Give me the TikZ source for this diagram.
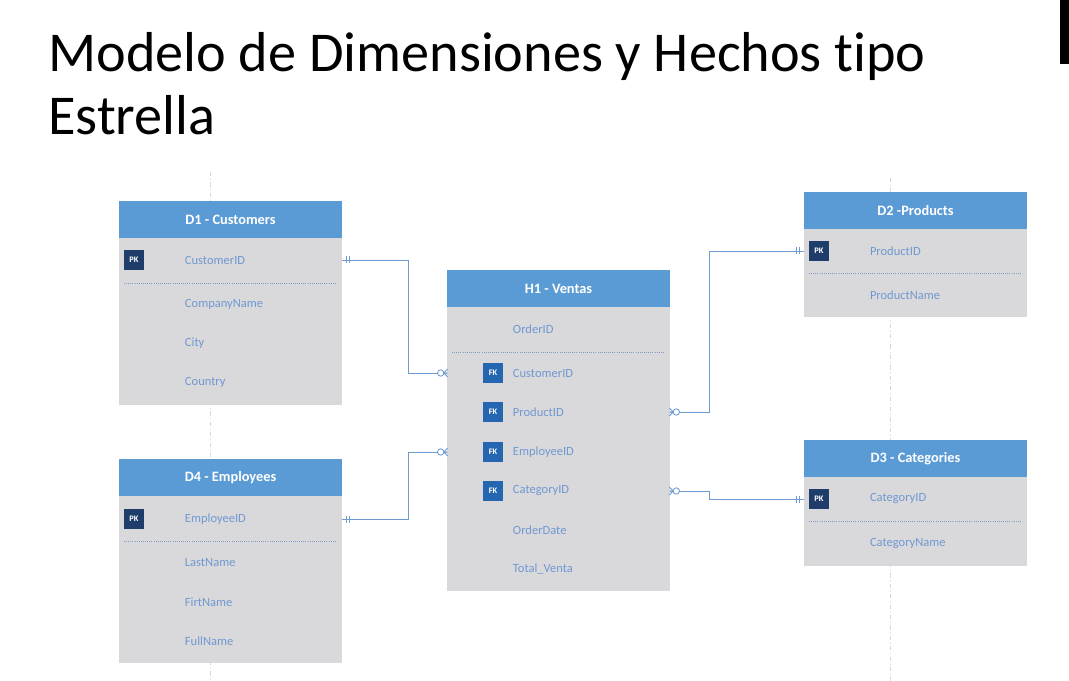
\documentclass[tikz,border=0pt]{standalone}
\usepackage{fontspec}
\setmainfont{Carlito}[Ligatures=NoCommon]
\usetikzlibrary{positioning}

\begin{document}
\begin{tikzpicture}[x=0.025cm, y=-0.025cm,
    head/.style={fill=headblue, text=white, font=\bfseries\fontsize{10.2}{12}\selectfont,
                 minimum width=5.575cm, minimum height=0.925cm, inner sep=0pt},
    row/.style={text width=2.275cm, inner xsep=1.65cm, inner ysep=0pt, align=left,
                text=fieldblue, font=\fontsize{8.9}{10}\selectfont},
    pk/.style={fill=pknavy, text=white, font=\bfseries\fontsize{6}{6}\selectfont,
               minimum size=0.5cm, inner sep=0pt},
    fk/.style={pk, fill=fkblue},
    sep/.style={sepcolor, densely dotted, line width=0.5pt},
    conn/.style={linkblue, line width=0.6pt},
    guia/.style={gray!30, dash dot, line width=0.5pt},
    uno/.pic={\draw[conn] (4,-3.5) -- (4,3.5) (7,-3.5) -- (7,3.5);},
    muchos/.pic={\draw[conn, fill=white] (-6,0) circle[radius=0.08cm];
                 \draw[conn] (-3,0) -- (1,-4) (-3,0) -- (1,0) (-3,0) -- (1,4);}]

    % Colores del diagrama
    \definecolor{headblue}{RGB}{91,155,213}
    \definecolor{bodygray}{RGB}{217,217,220}
    \definecolor{fieldblue}{RGB}{112,152,208}
    \definecolor{pknavy}{RGB}{31,61,107}
    \definecolor{fkblue}{RGB}{36,102,176}
    \definecolor{linkblue}{RGB}{110,155,210}
    \definecolor{sepcolor}{RGB}{130,155,190}

    \useasboundingbox (0,0) rectangle (1069,681);

    % --- Titulo ---
    \node[anchor=base west, inner sep=0pt, font=\fontsize{40}{45}\selectfont] (titulo1) at (48,72) {Modelo de Dimensiones y Hechos tipo};
    \node[anchor=base west, inner sep=0pt, font=\fontsize{40}{45}\selectfont] (titulo2) at (48,135) {Estrella};
    \fill[black] (1060,0) rectangle (1069,64);

    % Guias verticales
    \draw[guia] (210,172) -- (210,681);
    \draw[guia] (890,178) -- (890,681);

    % --- D1 - Customers ---
    \fill[bodygray] (119,238) rectangle (342,405);
    \node[head] (d1) at (230.5,219.5) {D1 - Customers};
    \node[row] (d1cust) at (230.5,260) {CustomerID};
    \node[pk] (d1pk) at (134,260) {PK};
    \draw[sep] (124,283) -- (337,283);
    \foreach \y/\f in {304/CompanyName, 343/City, 382/Country}
        \node[row] (d1-\y) at (230.5,\y) {\f};

    % --- D4 - Employees ---
    \fill[bodygray] (119,496) rectangle (342,663);
    \node[head] (d4) at (230.5,477.5) {D4 - Employees};
    \node[row] (d4emp) at (230.5,519) {EmployeeID};
    \node[pk] (d4pk) at (134,519) {PK};
    \draw[sep] (124,541) -- (337,541);
    \foreach \y/\f in {563/LastName, 602/FirtName, 641/FullName}
        \node[row] (d4-\y) at (230.5,\y) {\f};

    % --- H1 - Ventas (hechos) ---
    \fill[bodygray] (447,307) rectangle (670,591);
    \node[head] (h1) at (558.5,288.5) {H1 - Ventas};
    \node[row] (h1order) at (558.5,329) {OrderID};
    \draw[sep] (452,352) -- (665,352);
    \node[row] (h1cust) at (558.5,373) {CustomerID};
    \node[row] (h1prod) at (558.5,412) {ProductID};
    \node[row] (h1emp) at (558.5,452) {EmployeeID};
    \node[row] (h1cat) at (558.5,491) {CategoryID};
    \foreach \y in {373,412,452,491}
        \node[fk] (fk-\y) at (493,\y) {FK};
    \node[row] (h1fecha) at (558.5,530) {OrderDate};
    \node[row] (h1total) at (558.5,569) {Total\_Venta};

    % --- D2 -Products ---
    \fill[bodygray] (804,229) rectangle (1027,317);
    \node[head] (d2) at (915.5,210.5) {D2 -Products};
    \node[row] (d2prod) at (915.5,251) {ProductID};
    \node[pk] (d2pk) at (819,251) {PK};
    \draw[sep] (809,273) -- (1022,273);
    \node[row] (d2name) at (915.5,295) {ProductName};

    % --- D3 - Categories ---
    \fill[bodygray] (804,477) rectangle (1027,566);
    \node[head] (d3) at (915.5,458.5) {D3 - Categories};
    \node[row] (d3cat) at (915.5,499) {CategoryID};
    \node[pk] (d3pk) at (819,499) {PK};
    \draw[sep] (809,521) -- (1022,521);
    \node[row] (d3name) at (915.5,544) {CategoryName};

    % --- Relaciones ---
    \draw[conn] (d1cust.east) -- ++(66,0) |- (h1cust.west);
    \draw[conn] (d4emp.east) -- ++(66,0) |- (h1emp.west);
    \draw[conn] (h1prod.east) -- ++(39,0) |- (d2prod.west);
    \draw[conn] (h1cat.east) -- ++(39,0) |- (d3cat.west);

    \pic at (d1cust.east) {uno};
    \pic at (d4emp.east) {uno};
    \pic[xscale=-1] at (d2prod.west) {uno};
    \pic[xscale=-1] at (d3cat.west) {uno};
    \pic at (h1cust.west) {muchos};
    \pic at (h1emp.west) {muchos};
    \pic[xscale=-1] at (h1prod.east) {muchos};
    \pic[xscale=-1] at (h1cat.east) {muchos};

\end{tikzpicture}
\end{document}
